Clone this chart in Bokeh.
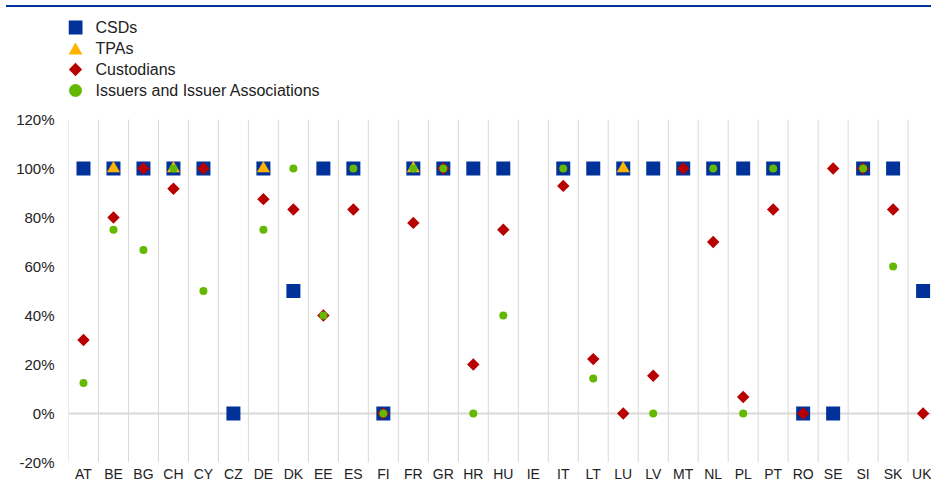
from bokeh.plotting import figure
from bokeh.models import (ColumnDataSource, Range1d, FixedTicker, PrintfTickFormatter, Div)
from bokeh.core.properties import value
from bokeh.layouts import column
from bokeh.embed import file_html
from bokeh.resources import INLINE

countries = ["AT", "BE", "BG", "CH", "CY", "CZ", "DE", "DK", "EE", "ES", "FI", "FR", "GR", "HR",
             "HU", "IE", "IT", "LT", "LU", "LV", "MT", "NL", "PL", "PT", "RO", "SE", "SI", "SK", "UK"]

csds = [100, 100, 100, 100, 100, 0, 100, 50, 100, 100, 0, 100, 100, 100,
        100, None, 100, 100, 100, 100, 100, 100, 100, 100, 0, 0, 100, 100, 50]
tpas = [None, 100, None, 100, None, None, 100, None, None, None, None, 100, None, None,
        None, None, None, None, 100, None, None, None, None, None, None, None, None, None, None]
custodians = [30, 80, 100, 91.7, 100, None, 87.5, 83.3, 40, 83.3, 0, 77.8, 100, 20,
              75, None, 92.9, 22.2, 0, 15.4, 100, 70, 6.7, 83.3, 0, 100, 100, 83.3, 0]
issuers = [12.5, 75, 66.7, 100, 50, None, 75, 100, 40, 100, 0, 100, 100, 0,
           40, None, 100, 14.3, None, 0, None, 100, 0, 100, None, None, 100, 60, None]

series_names = ["CSDs", "TPAs", "Custodians", "Issuers and Issuer Associations"]
y_ticks = [-20, 0, 20, 40, 60, 80, 100, 120]

BLUE = "#003299"
YELLOW = "#FFB400"
RED = "#B80000"
GREEN = "#65B800"
GRID = "#D9D9D9"
TEXT = "#222222"
FONT = "Liberation Sans"

FRAME_W = 863
PLOT_H = 343          # pixels between -20% and 120%
TOP_SPACE = 112       # pixels above the 120% line (legend area)
FRAME_H = PLOT_H + TOP_SPACE

# legend layout (frame pixels, measured from the top-left of the frame)
LEG_MARK_X = 7
LEG_TEXT_X = 27
LEG_ROW0 = 20
LEG_ROW_H = 21


def src(vals):
    xs = [i for i, v in enumerate(vals) if v is not None]
    ys = [v for v in vals if v is not None]
    return ColumnDataSource(dict(x=xs, y=ys))


n = len(countries)
span = y_ticks[-1] - y_ticks[0]
y_end = y_ticks[-1] + TOP_SPACE * span / PLOT_H

p = figure(frame_width=FRAME_W, frame_height=FRAME_H, output_backend="svg",
           toolbar_location=None,
           x_range=Range1d(-0.5, n - 1 + 0.28), y_range=Range1d(y_ticks[0], y_end),
           min_border_left=68, min_border_right=0, min_border_top=0, min_border_bottom=0)
p.extra_x_ranges = {"px": Range1d(0, FRAME_W)}
p.extra_y_ranges = {"px": Range1d(FRAME_H, 0)}
p.outline_line_color = None
p.background_fill_color = "white"
p.border_fill_color = "white"

# grids
p.xgrid.visible = False
p.ygrid.ticker = FixedTicker(ticks=[0])
p.ygrid.grid_line_color = GRID
p.ygrid.grid_line_width = 2
bounds = [i - 0.5 for i in range(n)]
p.segment(x0=bounds, x1=bounds, y0=[y_ticks[0]] * n, y1=[y_ticks[-1]] * n,
          line_color=GRID, line_width=1)

# axes
p.xaxis.ticker = FixedTicker(ticks=list(range(n)))
p.xaxis.major_label_overrides = {i: c for i, c in enumerate(countries)}
p.yaxis.ticker = FixedTicker(ticks=y_ticks)
p.yaxis.formatter = PrintfTickFormatter(format="%d%%")
for ax in (p.xaxis[0], p.yaxis[0]):
    ax.axis_line_color = None
    ax.major_tick_line_color = None
    ax.minor_tick_line_color = None
    ax.major_tick_out = 0
    ax.major_tick_in = 0
    ax.minor_tick_out = 0
    ax.major_label_text_font = FONT
    ax.major_label_text_color = TEXT
p.xaxis.major_label_text_font_size = "14px"
p.yaxis.major_label_text_font_size = "15px"
p.xaxis.major_label_standoff = 3
p.yaxis.major_label_standoff = 14

# series
styles = [
    dict(marker="square", size=14, angle=0.0, fill_color=BLUE),
    dict(marker="triangle", size=13, angle=0.0, fill_color=YELLOW),
    dict(marker="square", size=8.8, angle=0.785398, fill_color=RED),
    dict(marker="circle", size=8, angle=0.0, fill_color=GREEN),
]
legend_sizes = [14, 14, 9.4, 13]
legend_dy = [0, 2, 0, 0]

for vals, st in zip([csds, tpas, custodians, issuers], styles):
    p.scatter("x", "y", source=src(vals), line_color=None, **st)

# legend (drawn in frame pixel coordinates)
for k, (name, st) in enumerate(zip(series_names, styles)):
    row_y = LEG_ROW0 + k * LEG_ROW_H
    p.scatter(x=[LEG_MARK_X], y=[row_y + legend_dy[k]], marker=st["marker"],
              size=legend_sizes[k], angle=st["angle"], fill_color=st["fill_color"],
              line_color=None, x_range_name="px", y_range_name="px")
    p.text(x=[LEG_TEXT_X], y=[row_y], text=[name], text_align="left",
           text_baseline="middle", text_font=value(FONT), text_font_size="16px",
           text_color=TEXT, x_range_name="px", y_range_name="px")

top_line = Div(text="", width=925, height=2, margin=(5, 0, 0, 6),
               styles={"background-color": BLUE})

layout = column(top_line, p, spacing=0)
open("out.html", "w").write(file_html(layout, INLINE))
